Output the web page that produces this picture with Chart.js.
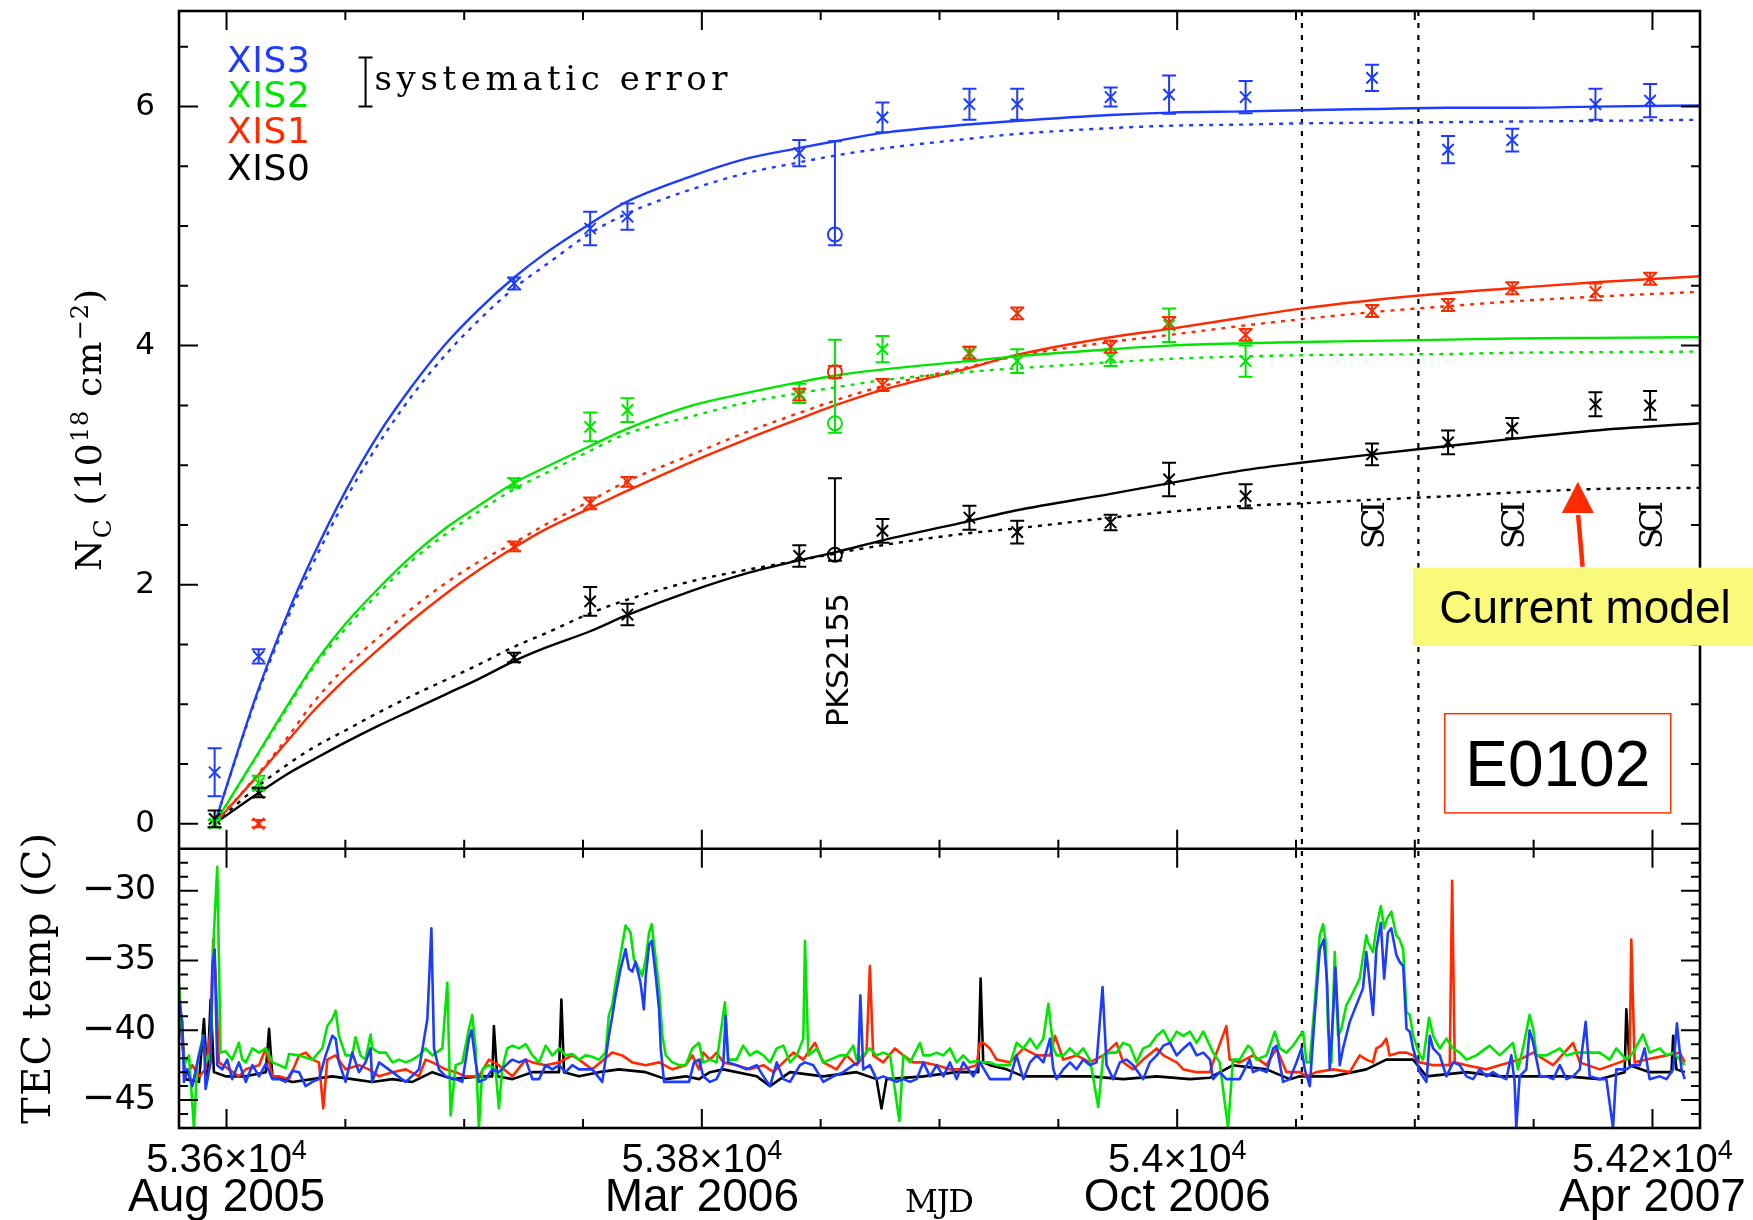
<!DOCTYPE html>
<html><head><meta charset="utf-8">
<script src="https://cdn.jsdelivr.net/npm/chart.js@4.4.1/dist/chart.umd.min.js"></script>
<style>html,body{margin:0;padding:0;background:#fff;overflow:hidden}canvas{display:block}</style>
</head><body>
<canvas id="c" width="1753" height="1220" style="width:1753px;height:1220px"></canvas>
<script>
// ---------------- axis ranges / ticks ----------------
const X_MIN = 53580, X_MAX = 54220, X_MINOR = 50, X_MAJOR = 200;
const NC_MIN = -0.21, NC_MAX = 6.8, NC_MINOR = 0.5, NC_MAJOR = 2;
const TEC_MIN = -47, TEC_MAX = -27, TEC_MINOR = 1, TEC_MAJOR = 5;
const ncTickValues = [0, 2, 4, 6];
const tecTickValues = [-30, -35, -40, -45];
const xLabelMJD = [53600, 53800, 54000, 54200];
const xLabelNumber = ['5.36\u00d710', '5.38\u00d710', '5.4\u00d710', '5.42\u00d710'];
const xLabelExp = ['4', '4', '4', '4'];
const xLabelDate = ['Aug 2005', 'Mar 2006', 'Oct 2006', 'Apr 2007'];
const sciWindowMJD = [54052.5, 54101.5];
const sciMJD = [54082, 54141, 54199];
const legendNames = ['XIS3', 'XIS2', 'XIS1', 'XIS0'];

// ---------------- measured N_C points ----------------
const obsMJD = [53595, 53613.5, 53721, 53753, 53768.7, 53841, 53876, 53912.6, 53932.7, 53972, 53996.6, 54028.8, 54082, 54114, 54141, 54176, 54199];
const xis3Val = [0.43, 1.40, 4.52, 4.98, 5.08, 5.61, 5.91, 6.02, 6.02, 6.08, 6.10, 6.08, 6.24, 5.64, 5.72, 6.02, 6.05];
const xis3Err = [0.20, 0.06, 0.05, 0.14, 0.11, 0.11, 0.125, 0.13, 0.13, 0.08, 0.16, 0.135, 0.11, 0.115, 0.095, 0.13, 0.14];
const xis2Val = [0.0, 0.34, 2.85, 3.32, 3.46, 3.60, 3.97, 3.93, 3.87, 3.90, 4.17, 3.87, null, null, null, null, null];
const xis2Err = [0.03, 0.06, 0.04, 0.12, 0.10, 0.08, 0.11, 0.06, 0.10, 0.07, 0.14, 0.13, null, null, null, null, null];
const xis1Val = [null, 0.0, 2.32, 2.68, 2.86, 3.59, 3.67, 3.94, 4.27, 3.99, 4.19, 4.09, 4.29, 4.34, 4.48, 4.45, 4.56];
const xis1Err = [null, 0.03, 0.04, 0.05, 0.04, 0.05, 0.05, 0.05, 0.05, 0.05, 0.05, 0.05, 0.05, 0.05, 0.05, 0.07, 0.05];
const xis0Val = [0.04, 0.26, 1.39, 1.86, 1.75, 2.24, 2.45, 2.56, 2.44, 2.52, 2.88, 2.74, 3.09, 3.19, 3.31, 3.51, 3.50];
const xis0Err = [0.07, 0.04, 0.04, 0.12, 0.09, 0.09, 0.10, 0.10, 0.095, 0.065, 0.14, 0.10, 0.09, 0.10, 0.085, 0.10, 0.12];

// PKS2155 points (order XIS0, XIS1, XIS2, XIS3)
const pksMJD = 53856;
const pksVal = [2.25, 3.78, 3.35, 4.93];
const pksErrLo = [0.05, 0.05, 0.08, 0.09];
const pksErrHi = [0.64, 0.05, 0.70, 0.78];

// ---------------- model curves ----------------
const modelMJD = [53595, 53613, 53626, 53636, 53650, 53664, 53678, 53692, 53706, 53721, 53734, 53753, 53768, 53796, 53818, 53840, 53856, 53876, 53912, 53932, 53972, 53997, 54029, 54052, 54082, 54114, 54141, 54176, 54220];
const xis3Fit   = [0, 1.10, 1.77, 2.22, 2.78, 3.26, 3.66, 4.01, 4.30, 4.57, 4.77, 5.02, 5.20, 5.42, 5.56, 5.65, 5.71, 5.78, 5.85, 5.88, 5.93, 5.95, 5.96, 5.97, 5.98, 5.99, 5.99, 6.00, 6.01];
const xis3Model = [0, 1.08, 1.73, 2.16, 2.71, 3.18, 3.58, 3.92, 4.21, 4.48, 4.67, 4.94, 5.10, 5.31, 5.44, 5.53, 5.59, 5.65, 5.73, 5.77, 5.82, 5.84, 5.85, 5.86, 5.865, 5.87, 5.875, 5.88, 5.89];
const xis2Fit   = [0, 0.58, 1.00, 1.31, 1.67, 1.97, 2.24, 2.47, 2.66, 2.85, 2.98, 3.16, 3.30, 3.50, 3.60, 3.69, 3.75, 3.80, 3.87, 3.91, 3.97, 4.00, 4.02, 4.03, 4.04, 4.05, 4.06, 4.065, 4.07];
const xis2Model = [0, 0.57, 0.98, 1.29, 1.63, 1.93, 2.20, 2.42, 2.61, 2.80, 2.93, 3.12, 3.26, 3.41, 3.52, 3.60, 3.65, 3.71, 3.78, 3.81, 3.86, 3.89, 3.91, 3.92, 3.925, 3.93, 3.94, 3.945, 3.95];
const xis1Fit   = [0, 0.40, 0.70, 0.93, 1.21, 1.46, 1.70, 1.92, 2.12, 2.31, 2.46, 2.64, 2.78, 3.03, 3.21, 3.38, 3.50, 3.63, 3.81, 3.92, 4.07, 4.14, 4.24, 4.31, 4.38, 4.44, 4.48, 4.53, 4.58];
const xis1Model = [0, 0.41, 0.73, 1.00, 1.31, 1.56, 1.80, 2.01, 2.19, 2.35, 2.50, 2.70, 2.86, 3.09, 3.27, 3.43, 3.54, 3.66, 3.82, 3.91, 4.03, 4.09, 4.17, 4.22, 4.28, 4.33, 4.37, 4.41, 4.45];
const xis0Fit   = [0, 0.25, 0.42, 0.53, 0.68, 0.82, 0.95, 1.08, 1.21, 1.36, 1.47, 1.61, 1.74, 1.95, 2.09, 2.20, 2.27, 2.37, 2.53, 2.62, 2.76, 2.85, 2.96, 3.02, 3.09, 3.16, 3.22, 3.29, 3.35];
const xis0Model = [0, 0.31, 0.50, 0.63, 0.78, 0.93, 1.07, 1.20, 1.33, 1.48, 1.59, 1.76, 1.87, 2.03, 2.12, 2.20, 2.26, 2.33, 2.43, 2.47, 2.56, 2.61, 2.66, 2.68, 2.71, 2.74, 2.77, 2.80, 2.81];

// ---------------- TEC temperatures [MJD, degC] ----------------
const tecXIS0 = [[53580.0,-38.0],[53582.8,-43.5],[53588.4,-43.7],[53590.5,-39.2],[53591.9,-43.5],[53593.3,-37.8],[53594.7,-43.0],[53599.6,-43.3],[53608.1,-43.3],[53616.5,-43.0],[53617.9,-39.9],[53619.3,-43.3],[53627.7,-43.7],[53636.1,-43.5],[53644.5,-43.3],[53652.9,-43.5],[53661.3,-43.7],[53669.8,-43.5],[53678.2,-43.7],[53686.6,-43.0],[53695.0,-43.5],[53706.2,-43.3],[53711.8,-43.3],[53712.5,-39.7],[53713.9,-43.3],[53720.3,-43.5],[53728.7,-43.0],[53739.9,-43.0],[53740.9,-37.8],[53742.0,-43.0],[53748.3,-43.3],[53756.7,-43.0],[53765.1,-42.8],[53776.4,-43.0],[53784.8,-43.5],[53793.2,-43.3],[53798.8,-43.5],[53803.4,-43.0],[53809.0,-42.8],[53823.1,-43.3],[53828.7,-44.0],[53837.1,-43.0],[53851.1,-43.3],[53865.1,-43.0],[53873.5,-43.5],[53875.6,-45.6],[53877.7,-43.5],[53893.2,-43.3],[53907.2,-43.0],[53916.3,-43.0],[53917.3,-36.3],[53918.4,-42.3],[53921.2,-42.5],[53928.2,-42.8],[53935.3,-43.3],[53949.3,-43.3],[53963.3,-43.3],[53977.3,-43.5],[53991.4,-43.3],[54005.4,-43.5],[54013.8,-43.4],[54023.5,-42.5],[54037.6,-42.8],[54047.4,-43.5],[54051.6,-43.3],[54065.6,-43.3],[54079.6,-42.8],[54088.0,-42.1],[54093.6,-42.1],[54099.3,-42.1],[54104.9,-43.3],[54121.7,-43.0],[54135.7,-43.3],[54149.8,-43.3],[54163.8,-43.3],[54177.8,-43.5],[54188.3,-43.0],[54189.0,-38.5],[54190.4,-42.5],[54198.8,-43.0],[54208.0,-43.0],[54208.7,-40.4],[54210.1,-42.8],[54213.6,-43.0]];
const tecXIS1 = [[53580.0,-37.0],[53582.8,-43.3],[53585.6,-42.5],[53588.4,-43.3],[53591.2,-42.8],[53593.3,-40.0],[53594.4,-33.5],[53595.4,-36.0],[53596.8,-42.3],[53601.0,-42.8],[53605.2,-43.3],[53608.1,-42.8],[53613.7,-42.5],[53616.5,-41.3],[53619.3,-43.3],[53622.1,-43.3],[53626.3,-43.5],[53630.5,-41.8],[53633.3,-41.6],[53636.1,-42.1],[53638.9,-42.3],[53640.7,-45.6],[53642.4,-42.1],[53645.9,-41.8],[53650.1,-42.8],[53655.7,-42.5],[53659.9,-42.8],[53664.2,-43.3],[53669.8,-43.0],[53675.4,-42.8],[53681.0,-43.3],[53683.8,-42.1],[53686.6,-42.3],[53692.2,-42.8],[53696.4,-43.0],[53700.6,-43.3],[53706.2,-43.3],[53710.4,-42.1],[53714.6,-42.5],[53720.3,-43.3],[53725.9,-42.1],[53728.7,-42.3],[53734.3,-42.5],[53739.9,-42.3],[53745.5,-41.8],[53748.3,-42.1],[53753.9,-42.8],[53762.3,-41.6],[53766.5,-41.8],[53770.7,-42.3],[53776.4,-42.5],[53782.0,-42.3],[53787.6,-42.8],[53793.2,-42.5],[53796.0,-41.8],[53798.8,-42.8],[53800.6,-41.6],[53803.4,-42.1],[53806.2,-41.6],[53809.0,-42.3],[53814.6,-42.5],[53820.2,-42.8],[53825.9,-42.5],[53830.1,-43.0],[53834.3,-42.3],[53838.5,-41.6],[53842.7,-42.1],[53847.6,-40.9],[53851.1,-42.3],[53856.7,-42.8],[53860.9,-41.8],[53865.1,-42.5],[53869.3,-41.6],[53870.7,-35.4],[53872.1,-41.8],[53876.3,-42.3],[53881.3,-41.3],[53884.8,-41.8],[53889.0,-42.3],[53893.2,-42.3],[53898.8,-42.5],[53904.4,-42.8],[53910.0,-42.8],[53915.6,-42.5],[53917.0,-40.9],[53918.4,-40.9],[53921.2,-41.3],[53924.0,-42.1],[53929.6,-42.3],[53935.3,-41.3],[53940.9,-41.8],[53946.5,-41.8],[53948.6,-40.4],[53952.1,-42.1],[53957.7,-41.8],[53963.3,-42.3],[53968.9,-41.8],[53974.5,-40.9],[53977.3,-42.3],[53981.5,-42.8],[53985.7,-42.1],[53991.4,-41.3],[53994.2,-41.8],[53999.8,-42.3],[54002.6,-42.8],[54008.2,-43.0],[54013.8,-43.0],[54015.1,-42.3],[54020.7,-39.7],[54022.1,-42.1],[54026.3,-42.3],[54031.9,-41.8],[54037.6,-42.5],[54041.8,-41.3],[54046.0,-43.0],[54051.6,-43.0],[54054.4,-43.3],[54058.6,-43.0],[54065.6,-42.8],[54072.6,-43.0],[54076.8,-41.8],[54079.6,-42.1],[54082.4,-42.3],[54083.8,-41.3],[54085.9,-41.1],[54088.0,-40.6],[54089.4,-41.8],[54093.6,-41.6],[54096.5,-41.6],[54099.3,-41.8],[54102.1,-42.3],[54107.7,-42.5],[54114.7,-42.5],[54115.7,-29.3],[54116.8,-42.3],[54121.7,-42.5],[54130.1,-42.8],[54135.7,-42.5],[54144.1,-42.1],[54149.8,-41.6],[54158.2,-42.5],[54166.6,-40.9],[54169.4,-42.3],[54177.8,-42.8],[54186.2,-42.3],[54190.4,-42.0],[54191.1,-33.5],[54192.5,-42.3],[54197.4,-42.1],[54205.9,-41.8],[54211.5,-41.6],[54213.6,-42.3]];
const tecXIS2 = [[53580.0,-36.7],[53582.1,-42.5],[53584.2,-41.8],[53586.3,-47.0],[53587.7,-42.3],[53590.1,-40.4],[53591.2,-42.3],[53593.3,-41.6],[53594.7,-33.0],[53596.1,-28.3],[53597.5,-41.6],[53599.6,-41.5],[53602.4,-42.1],[53605.2,-40.9],[53606.6,-42.1],[53608.1,-42.3],[53610.9,-41.3],[53613.7,-41.6],[53616.5,-41.3],[53619.3,-42.3],[53622.1,-42.5],[53624.9,-42.7],[53626.3,-41.7],[53630.5,-41.8],[53636.1,-42.1],[53640.3,-41.3],[53642.4,-39.7],[53644.5,-39.2],[53645.9,-38.6],[53647.3,-40.4],[53650.1,-41.8],[53652.9,-41.8],[53654.3,-40.5],[53656.4,-41.8],[53658.5,-42.1],[53660.6,-40.3],[53661.3,-41.3],[53664.2,-41.6],[53667.0,-41.6],[53669.8,-42.3],[53672.6,-42.1],[53675.4,-42.3],[53678.2,-42.1],[53681.0,-41.8],[53683.8,-41.3],[53686.6,-41.8],[53690.8,-41.3],[53692.9,-36.6],[53694.3,-46.1],[53696.4,-42.5],[53699.2,-42.3],[53702.0,-39.9],[53703.4,-38.9],[53704.8,-41.3],[53706.2,-47.0],[53707.6,-42.8],[53710.4,-42.5],[53713.2,-42.8],[53714.6,-45.6],[53716.0,-42.8],[53718.1,-41.3],[53720.3,-41.1],[53723.1,-41.3],[53725.9,-41.0],[53728.7,-41.8],[53731.5,-42.3],[53734.3,-41.1],[53737.1,-41.8],[53739.9,-41.3],[53742.7,-41.8],[53745.5,-41.7],[53748.3,-42.1],[53751.1,-41.8],[53753.9,-41.9],[53756.7,-42.1],[53759.5,-41.6],[53760.9,-38.9],[53762.3,-38.2],[53763.7,-36.6],[53765.8,-34.6],[53767.9,-32.5],[53770.0,-33.0],[53771.4,-34.9],[53773.5,-35.6],[53774.9,-36.1],[53776.4,-34.9],[53777.8,-33.0],[53778.9,-32.4],[53780.6,-34.9],[53782.0,-37.0],[53783.4,-40.4],[53784.8,-41.8],[53787.6,-42.3],[53790.4,-42.5],[53793.2,-42.5],[53796.0,-41.3],[53798.8,-40.9],[53800.6,-42.3],[53803.4,-42.1],[53806.2,-42.3],[53809.7,-38.0],[53811.1,-42.1],[53814.6,-42.1],[53817.4,-41.1],[53820.2,-41.8],[53823.1,-41.5],[53825.9,-41.8],[53828.7,-42.3],[53831.5,-41.3],[53834.3,-41.1],[53837.1,-42.3],[53839.9,-41.8],[53842.7,-40.6],[53843.4,-33.6],[53844.8,-41.8],[53848.3,-41.3],[53851.1,-42.3],[53853.9,-42.1],[53858.1,-41.8],[53860.9,-41.8],[53863.7,-41.1],[53865.1,-42.1],[53867.9,-41.8],[53870.7,-41.3],[53873.5,-41.8],[53876.3,-41.6],[53879.2,-41.8],[53883.1,-46.5],[53884.8,-41.8],[53887.6,-42.3],[53891.8,-40.9],[53893.2,-41.8],[53896.0,-41.8],[53898.8,-41.6],[53901.6,-41.8],[53904.4,-41.3],[53907.2,-42.3],[53910.0,-41.8],[53912.8,-42.3],[53915.6,-42.2],[53918.4,-42.3],[53921.2,-42.3],[53924.0,-42.5],[53926.8,-42.5],[53929.6,-42.5],[53932.4,-40.9],[53935.3,-41.3],[53938.1,-40.6],[53940.9,-41.3],[53943.7,-40.6],[53945.8,-38.1],[53947.9,-41.3],[53949.3,-41.8],[53952.1,-41.8],[53954.9,-41.3],[53957.7,-41.8],[53960.5,-41.3],[53963.3,-42.1],[53966.8,-45.5],[53968.9,-41.8],[53971.7,-41.6],[53974.5,-41.6],[53977.3,-40.9],[53980.1,-41.1],[53982.9,-42.3],[53985.7,-41.3],[53988.5,-41.1],[53991.4,-40.4],[53994.2,-40.0],[53997.0,-40.9],[53999.8,-40.1],[54002.6,-40.4],[54005.4,-40.1],[54008.2,-40.9],[54011.0,-40.1],[54013.8,-41.1],[54015.1,-41.6],[54017.9,-42.3],[54021.4,-47.0],[54023.5,-42.1],[54026.3,-42.1],[54029.8,-41.1],[54031.2,-41.3],[54033.3,-42.1],[54037.6,-41.8],[54041.1,-40.1],[54043.2,-41.3],[54046.0,-41.6],[54048.8,-41.1],[54051.6,-40.4],[54053.0,-40.1],[54054.4,-42.3],[54055.8,-42.3],[54057.9,-38.0],[54060.0,-33.2],[54061.4,-32.4],[54062.5,-33.7],[54063.5,-39.9],[54064.9,-42.3],[54066.3,-34.4],[54067.7,-40.4],[54069.1,-39.9],[54071.2,-38.2],[54074.0,-37.3],[54076.8,-36.3],[54079.6,-33.2],[54080.3,-33.7],[54082.4,-34.4],[54083.8,-32.7],[54085.7,-31.1],[54087.1,-32.7],[54088.3,-32.0],[54090.1,-31.5],[54092.2,-33.2],[54093.6,-33.5],[54095.1,-34.2],[54096.5,-38.7],[54097.9,-38.9],[54099.3,-40.4],[54100.7,-41.1],[54102.1,-41.8],[54103.5,-42.1],[54106.0,-39.1],[54107.7,-40.4],[54110.5,-41.3],[54113.3,-40.6],[54116.1,-41.3],[54118.9,-41.6],[54121.7,-42.1],[54125.9,-41.8],[54131.5,-41.1],[54135.7,-41.8],[54141.3,-40.9],[54143.4,-42.8],[54145.5,-41.3],[54148.3,-38.9],[54149.8,-39.9],[54151.2,-41.8],[54155.4,-41.8],[54161.0,-41.3],[54163.8,-41.8],[54168.0,-41.6],[54172.2,-41.6],[54177.8,-41.6],[54182.0,-42.1],[54184.8,-41.3],[54189.0,-42.1],[54191.8,-41.6],[54196.0,-40.3],[54198.8,-41.6],[54203.1,-41.3],[54205.9,-41.8],[54208.7,-41.6],[54211.5,-42.1],[54213.6,-42.5]];
const tecXIS3 = [[53580.0,-37.8],[53581.4,-39.4],[53582.1,-43.7],[53583.5,-42.8],[53585.6,-44.0],[53588.4,-41.8],[53590.5,-40.4],[53591.2,-44.2],[53593.3,-42.3],[53594.0,-35.4],[53595.0,-34.2],[53596.1,-42.5],[53598.2,-42.8],[53600.3,-42.1],[53602.4,-43.5],[53605.2,-42.3],[53608.1,-43.7],[53610.9,-42.5],[53613.7,-43.3],[53616.5,-42.4],[53619.3,-43.5],[53622.1,-43.5],[53624.9,-43.7],[53627.7,-42.9],[53630.5,-43.0],[53633.3,-44.0],[53636.1,-43.7],[53638.9,-43.5],[53641.7,-41.8],[53644.5,-40.4],[53645.9,-40.6],[53647.3,-42.3],[53650.1,-43.7],[53652.9,-41.6],[53655.7,-43.0],[53658.5,-42.3],[53660.6,-41.3],[53661.3,-43.7],[53664.2,-42.3],[53669.8,-43.0],[53675.4,-43.7],[53681.0,-42.8],[53684.5,-39.2],[53686.2,-32.7],[53687.3,-41.3],[53689.4,-42.8],[53692.2,-43.3],[53696.4,-43.5],[53699.2,-43.7],[53702.0,-40.6],[53703.1,-40.0],[53704.8,-42.3],[53706.2,-43.7],[53709.0,-43.5],[53711.8,-42.8],[53714.6,-43.0],[53718.8,-42.3],[53720.3,-42.1],[53723.1,-42.3],[53725.9,-42.1],[53728.7,-43.5],[53731.5,-43.5],[53734.3,-42.5],[53737.1,-42.8],[53739.9,-42.5],[53742.7,-43.0],[53745.5,-42.5],[53748.3,-42.8],[53753.9,-42.8],[53758.1,-43.7],[53760.9,-40.4],[53762.3,-39.0],[53763.7,-37.5],[53765.8,-35.6],[53767.9,-34.2],[53769.3,-35.6],[53770.7,-35.8],[53772.1,-35.1],[53774.2,-36.6],[53775.6,-38.5],[53776.4,-36.1],[53777.8,-33.9],[53778.9,-33.6],[53780.6,-36.1],[53782.0,-38.5],[53782.7,-41.3],[53784.1,-43.7],[53787.6,-43.7],[53790.4,-43.7],[53794.6,-43.7],[53796.7,-42.3],[53798.8,-42.1],[53800.6,-43.3],[53803.4,-43.7],[53806.2,-43.5],[53809.0,-42.5],[53810.0,-39.0],[53811.1,-42.3],[53814.6,-42.5],[53818.8,-42.8],[53823.1,-42.5],[53825.9,-43.3],[53828.7,-44.0],[53831.5,-42.3],[53834.3,-43.5],[53837.1,-43.7],[53841.3,-42.5],[53843.4,-42.3],[53846.9,-42.5],[53851.1,-43.7],[53855.3,-43.3],[53859.5,-43.0],[53863.7,-42.5],[53865.8,-42.3],[53866.7,-37.5],[53867.9,-42.8],[53870.7,-42.5],[53873.5,-43.5],[53876.3,-43.3],[53879.2,-43.5],[53882.0,-43.7],[53884.8,-43.5],[53887.6,-43.7],[53890.4,-43.5],[53893.2,-42.3],[53896.0,-43.3],[53898.8,-42.5],[53901.6,-43.3],[53904.4,-42.3],[53907.2,-43.5],[53910.0,-42.3],[53914.2,-43.3],[53917.0,-42.3],[53921.2,-43.5],[53926.8,-43.5],[53929.6,-43.5],[53932.4,-41.8],[53935.3,-43.5],[53938.1,-42.3],[53940.9,-41.8],[53943.7,-42.3],[53946.5,-40.6],[53947.9,-42.8],[53949.3,-43.5],[53952.1,-42.8],[53954.9,-42.3],[53957.7,-42.8],[53960.5,-42.1],[53963.3,-42.5],[53966.1,-42.3],[53968.6,-36.9],[53970.3,-42.5],[53973.1,-43.5],[53975.9,-42.3],[53978.7,-42.1],[53981.5,-42.5],[53985.7,-43.5],[53988.5,-42.3],[53991.4,-41.8],[53994.2,-41.1],[53997.0,-40.9],[53999.8,-41.8],[54002.6,-41.3],[54005.4,-40.9],[54008.2,-41.8],[54011.0,-41.6],[54013.8,-42.1],[54015.1,-43.5],[54017.9,-43.0],[54020.7,-43.5],[54023.5,-43.5],[54026.3,-43.5],[54030.5,-42.1],[54031.9,-43.0],[54034.7,-42.8],[54037.6,-43.0],[54040.4,-41.3],[54041.8,-41.1],[54044.6,-43.7],[54047.4,-43.5],[54050.2,-42.3],[54052.3,-41.3],[54053.7,-42.8],[54055.8,-44.0],[54057.9,-38.9],[54060.0,-34.2],[54061.7,-33.5],[54063.1,-36.6],[54064.2,-42.8],[54065.6,-38.9],[54066.6,-35.5],[54067.7,-39.4],[54068.4,-42.5],[54069.8,-41.3],[54072.6,-39.4],[54075.4,-38.2],[54078.2,-37.0],[54079.6,-34.4],[54081.0,-36.6],[54082.4,-38.9],[54083.8,-34.2],[54085.7,-32.3],[54087.1,-36.3],[54088.7,-33.0],[54090.1,-32.7],[54092.2,-34.6],[54093.6,-35.1],[54095.1,-35.4],[54096.5,-39.9],[54097.9,-40.1],[54099.3,-41.3],[54102.1,-43.0],[54104.9,-43.7],[54106.3,-40.4],[54107.7,-41.3],[54110.5,-41.8],[54113.3,-43.3],[54116.1,-42.3],[54118.9,-42.5],[54121.7,-43.3],[54124.5,-43.5],[54127.3,-42.8],[54130.1,-43.3],[54132.9,-43.0],[54135.7,-43.3],[54138.5,-43.5],[54140.6,-41.8],[54142.0,-43.7],[54142.7,-47.0],[54144.1,-43.3],[54146.9,-42.8],[54148.3,-40.0],[54149.8,-40.9],[54152.6,-43.3],[54155.4,-43.3],[54158.2,-43.5],[54161.0,-42.5],[54163.8,-43.5],[54166.6,-43.3],[54169.4,-42.8],[54171.9,-39.4],[54173.6,-43.3],[54177.8,-43.5],[54180.6,-43.5],[54183.4,-47.0],[54184.8,-42.8],[54189.0,-42.8],[54191.8,-42.5],[54194.6,-42.5],[54196.7,-41.3],[54198.8,-43.5],[54203.1,-43.3],[54205.9,-43.5],[54208.7,-42.8],[54210.3,-39.5],[54212.2,-42.8],[54213.6,-43.5]];

// ---------------- styling ----------------
const COLORS = { XIS0: '#000000', XIS1: '#ff2a00', XIS2: '#00e600', XIS3: '#1e3cff' };
const SERIF = '"DejaVu Serif", serif';
const SANS = '"DejaVu Sans", sans-serif';
const ARIAL = '"Liberation Sans", Arial, sans-serif';

// ---------------- build datasets ----------------
const detectors = [
  { name: 'XIS3', fit: xis3Fit, model: xis3Model, val: xis3Val, err: xis3Err, pk: 3, tec: tecXIS3, tecOrder: 2 },
  { name: 'XIS2', fit: xis2Fit, model: xis2Model, val: xis2Val, err: xis2Err, pk: 2, tec: tecXIS2, tecOrder: 3 },
  { name: 'XIS1', fit: xis1Fit, model: xis1Model, val: xis1Val, err: xis1Err, pk: 1, tec: tecXIS1, tecOrder: 4 },
  { name: 'XIS0', fit: xis0Fit, model: xis0Model, val: xis0Val, err: xis0Err, pk: 0, tec: tecXIS0, tecOrder: 5 }
];
const datasets = [];
for (const d of detectors) {
  const c = COLORS[d.name];
  datasets.push({ label: d.name + ' fit', data: modelMJD.map((m, i) => ({ x: m, y: d.fit[i] })), yAxisID: 'y',
    borderColor: c, borderWidth: 2.4, pointRadius: 0, cubicInterpolationMode: 'monotone', fill: false, order: 1 });
  datasets.push({ label: d.name + ' model', data: modelMJD.map((m, i) => ({ x: m, y: d.model[i] })), yAxisID: 'y',
    borderColor: c, borderWidth: 2.4, borderDash: [4, 6], pointRadius: 0, cubicInterpolationMode: 'monotone', fill: false, order: 1 });
  const pts = [], eLo = [], eHi = [];
  obsMJD.forEach((m, i) => { if (d.val[i] !== null) { pts.push({ x: m, y: d.val[i] }); eLo.push(d.err[i]); eHi.push(d.err[i]); } });
  datasets.push({ label: d.name, data: pts, errLo: eLo, errHi: eHi, yAxisID: 'y', showLine: false,
    borderColor: c, backgroundColor: c, pointStyle: 'crossRot', pointRadius: 8, pointBorderWidth: 2, order: 0 });
  datasets.push({ label: d.name + ' PKS2155', data: [{ x: pksMJD, y: pksVal[d.pk] }], errLo: [pksErrLo[d.pk]], errHi: [pksErrHi[d.pk]],
    yAxisID: 'y', showLine: false, borderColor: c, backgroundColor: 'rgba(0,0,0,0)', pointStyle: 'circle', pointRadius: 7, pointBorderWidth: 2, order: 0 });
  datasets.push({ label: d.name + ' TEC', data: d.tec.map(p => ({ x: p[0], y: p[1] })), yAxisID: 'y2',
    borderColor: c, borderWidth: 2.6, pointRadius: 0, tension: 0, fill: false, order: d.tecOrder });
}

// ---------------- helpers ----------------
function stepValues(min, max, step) {
  const out = [];
  for (let k = Math.ceil(min / step - 1e-9); k * step <= max + 1e-9; k++) out.push(Math.round(k * step * 1e6) / 1e6);
  return out;
}
function isMult(v, m) { return Math.abs(v / m - Math.round(v / m)) < 1e-6; }
function drawRich(ctx, segs, cx, cy, target, family, align) {
  const chars = [];
  for (const [t, s, dy] of segs) for (const ch of t) { ctx.font = s + 'px ' + family; chars.push({ ch, s, dy: dy || 0, w: ctx.measureText(ch).width }); }
  const w0 = chars.reduce((a, c) => a + c.w, 0);
  const ls = target && chars.length > 1 ? (target - w0) / (chars.length - 1) : 0;
  const total = w0 + ls * (chars.length - 1);
  let x = align === 'left' ? cx : align === 'right' ? cx - total : cx - total / 2;
  ctx.textAlign = 'left';
  for (const c of chars) { ctx.font = c.s + 'px ' + family; ctx.fillText(c.ch, x, cy + c.dy); x += c.w + ls; }
}
function rotated(ctx, px, py, fn) { ctx.save(); ctx.translate(px, py); ctx.rotate(-Math.PI / 2); fn(); ctx.restore(); }

// ---------------- decoration plugin ----------------
const deco = {
  id: 'deco',
  beforeDatasetsDraw(chart) {
    const { ctx, chartArea: a, scales: { x } } = chart;
    ctx.save();
    ctx.strokeStyle = '#000'; ctx.lineWidth = 2.2; ctx.setLineDash([5, 7]);
    for (const m of sciWindowMJD) {
      const px = x.getPixelForValue(m);
      ctx.beginPath(); ctx.moveTo(px, a.top); ctx.lineTo(px, a.bottom); ctx.stroke();
    }
    ctx.restore();
  },
  afterDatasetsDraw(chart) {
    const { ctx, scales: { x, y } } = chart;
    ctx.save(); ctx.lineWidth = 2; ctx.setLineDash([]);
    for (const ds of chart.data.datasets) {
      if (!ds.errLo) continue;
      ctx.strokeStyle = ds.borderColor;
      ds.data.forEach((p, i) => {
        const px = x.getPixelForValue(p.x);
        const yt = y.getPixelForValue(p.y + ds.errHi[i]);
        const yb = y.getPixelForValue(p.y - ds.errLo[i]);
        ctx.beginPath();
        ctx.moveTo(px, yt); ctx.lineTo(px, yb);
        ctx.moveTo(px - 7, yt); ctx.lineTo(px + 7, yt);
        ctx.moveTo(px - 7, yb); ctx.lineTo(px + 7, yb);
        ctx.stroke();
      });
    }
    ctx.restore();
  },
  afterDraw(chart) {
    const { ctx, chartArea: a, scales: { x, y, y2 } } = chart;
    ctx.save();
    ctx.setLineDash([]);
    // frame
    ctx.strokeStyle = '#000'; ctx.lineWidth = 2.6;
    ctx.strokeRect(a.left, a.top, a.right - a.left, a.bottom - a.top);
    ctx.beginPath(); ctx.moveTo(a.left, y.bottom); ctx.lineTo(a.right, y.bottom); ctx.stroke();
    // ticks
    ctx.lineWidth = 2;
    ctx.beginPath();
    for (const v of stepValues(X_MIN, X_MAX, X_MINOR)) {
      const px = x.getPixelForValue(v); const L = isMult(v, X_MAJOR) ? 19 : 9;
      ctx.moveTo(px, y.top); ctx.lineTo(px, y.top + L);
      ctx.moveTo(px, y.bottom); ctx.lineTo(px, y.bottom - L);
      ctx.moveTo(px, y2.top); ctx.lineTo(px, y2.top + L);
      ctx.moveTo(px, y2.bottom); ctx.lineTo(px, y2.bottom - L);
    }
    for (const v of stepValues(NC_MIN, NC_MAX, NC_MINOR)) {
      const py = y.getPixelForValue(v); const L = isMult(v, NC_MAJOR) ? 19 : 9;
      ctx.moveTo(a.left, py); ctx.lineTo(a.left + L, py); ctx.moveTo(a.right, py); ctx.lineTo(a.right - L, py);
    }
    for (const v of stepValues(TEC_MIN, TEC_MAX, TEC_MINOR)) {
      if (v <= TEC_MIN || v >= TEC_MAX) continue;
      const py = y2.getPixelForValue(v); const L = isMult(v, TEC_MAJOR) ? 19 : 9;
      ctx.moveTo(a.left, py); ctx.lineTo(a.left + L, py); ctx.moveTo(a.right, py); ctx.lineTo(a.right - L, py);
    }
    ctx.stroke();

    // y tick labels
    ctx.fillStyle = '#000'; ctx.textBaseline = 'middle';
    for (const v of ncTickValues) drawRich(ctx, [[String(v), 31]], a.left - 24, y.getPixelForValue(v), null, SANS, 'right');
    for (const v of tecTickValues) drawRich(ctx, [['\u2212', 40], [String(Math.abs(v)), 33]], a.left - 23, y2.getPixelForValue(v), 74, SANS, 'right');
    ctx.textBaseline = 'alphabetic';

    // x labels
    xLabelMJD.forEach((m, i) => {
      const px = x.getPixelForValue(m);
      drawRich(ctx, [[xLabelNumber[i], 40], [xLabelExp[i], 27, -13]], px, 1172, null, ARIAL, 'center');
      drawRich(ctx, [[xLabelDate[i], 46]], px, 1211, null, ARIAL, 'center');
    });
    drawRich(ctx, [['MJD', 32]], x.getPixelForValue(53900), 1212, 69, SERIF, 'center');

    // axis titles
    rotated(ctx, 101, (y.top + y.bottom) / 2, () => drawRich(ctx, [['N', 36], ['C', 25, 10], [' (10', 36], ['18', 24, -13], [' cm', 36], ['\u22122', 24, -13], [')', 36]], 0, 0, 282, SERIF, 'center'));
    rotated(ctx, 50, (y2.top + y2.bottom) / 2 - 10, () => drawRich(ctx, [['TEC temp (C)', 40]], 0, 0, 291, SERIF, 'center'));

    // legend
    const legendBase = [72, 107, 143, 180];
    legendNames.forEach((n, i) => { ctx.fillStyle = COLORS[n]; drawRich(ctx, [[n, 36]], 227, legendBase[i], 83, SANS, 'left'); });
    // systematic error glyph
    ctx.fillStyle = '#000'; ctx.strokeStyle = '#000'; ctx.lineWidth = 2;
    const sx = x.getPixelForValue(53658.5), st = y.getPixelForValue(6.41), sb = y.getPixelForValue(6.0);
    ctx.beginPath(); ctx.moveTo(sx, st); ctx.lineTo(sx, sb); ctx.moveTo(sx - 7, st); ctx.lineTo(sx + 7, st); ctx.moveTo(sx - 7, sb); ctx.lineTo(sx + 7, sb); ctx.stroke();
    drawRich(ctx, [['systematic error', 34]], sx + 9, 90, 353, SERIF, 'left');

    // PKS2155 and SCI labels
    rotated(ctx, x.getPixelForValue(pksMJD) + 13, y.getPixelForValue(1.37), () => drawRich(ctx, [['PKS2155', 31]], 0, 0, 134, SANS, 'center'));
    for (const m of sciMJD) rotated(ctx, x.getPixelForValue(m) + 12, y.getPixelForValue(2.50), () => drawRich(ctx, [['SCI', 31]], 0, 0, 48, SERIF, 'center'));

    // E0102 box
    const eL = x.getPixelForValue(54112.6), eR = x.getPixelForValue(54207.7), eT = y.getPixelForValue(0.92), eB = y.getPixelForValue(0.09);
    ctx.strokeStyle = '#ff3300'; ctx.lineWidth = 1.5; ctx.strokeRect(eL, eT, eR - eL, eB - eT);
    ctx.fillStyle = '#000';
    drawRich(ctx, [['E0102', 64]], (eL + eR) / 2, y.getPixelForValue(0.318), null, ARIAL, 'center');

    // Current model callout
    const cL = x.getPixelForValue(54099.2), cT = y.getPixelForValue(2.142), cB = y.getPixelForValue(1.49);
    ctx.fillStyle = '#fafa7a'; ctx.fillRect(cL, cT, chart.width - cL, cB - cT);
    ctx.fillStyle = '#000';
    drawRich(ctx, [['Current model', 46]], (cL + chart.width) / 2 + 2, y.getPixelForValue(1.68), null, ARIAL, 'center');
    const ax0 = x.getPixelForValue(54170.6), ay0 = y.getPixelForValue(2.15);
    const ax1 = x.getPixelForValue(54168.6), ayb = y.getPixelForValue(2.60), ayt = y.getPixelForValue(2.86);
    ctx.strokeStyle = '#ff2a00'; ctx.fillStyle = '#ff2a00'; ctx.lineWidth = 4.5;
    ctx.beginPath(); ctx.moveTo(ax0, ay0); ctx.lineTo(ax1 + 0.3, ayb + 2); ctx.stroke();
    ctx.beginPath(); ctx.moveTo(ax1 - 16, ayb); ctx.lineTo(ax1 + 16, ayb); ctx.lineTo(ax1, ayt); ctx.closePath(); ctx.fill();
    ctx.restore();
  }
};

new Chart(document.getElementById('c').getContext('2d'), {
  type: 'line',
  data: { datasets },
  options: {
    responsive: false, animation: false, devicePixelRatio: 1,
    layout: { padding: { left: 0, right: 53, top: 11, bottom: 0 } },
    plugins: { legend: { display: false }, tooltip: { enabled: false } },
    elements: { line: { borderCapStyle: 'butt', borderJoinStyle: 'round' } },
    scales: {
      x: { type: 'linear', position: 'bottom', min: X_MIN, max: X_MAX,
        ticks: { display: false, stepSize: X_MINOR }, grid: { display: false }, border: { display: false },
        afterFit: s => { s.height = 92; } },
      y2: { type: 'linear', position: 'left', stack: 'panels', stackWeight: 1, min: TEC_MIN, max: TEC_MAX,
        ticks: { display: false, stepSize: TEC_MINOR }, grid: { display: false }, border: { display: false },
        afterFit: s => { s.width = 179; } },
      y: { type: 'linear', position: 'left', stack: 'panels', stackWeight: 3, min: NC_MIN, max: NC_MAX,
        ticks: { display: false, stepSize: NC_MINOR }, grid: { display: false }, border: { display: false },
        afterFit: s => { s.width = 179; } }
    }
  },
  plugins: [deco]
});
</script>
</body></html>
